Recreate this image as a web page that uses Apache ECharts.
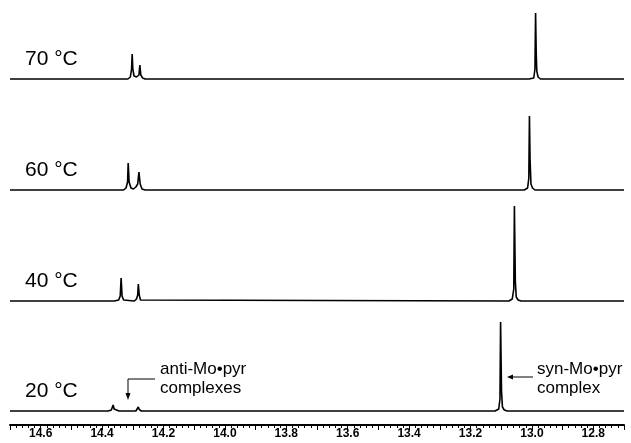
<!DOCTYPE html>
<html>
<head>
<meta charset="utf-8">
<script src="https://cdn.jsdelivr.net/npm/echarts@6/dist/echarts.min.js"></script>
<style>html,body{margin:0;padding:0;background:#fff}#c{width:631px;height:443px}</style>
</head>
<body>
<div id="c"></div>
<script>
// Temperatures (top to bottom)
const temps = ['70 °C', '60 °C', '40 °C', '20 °C'];
// Chemical shift axis (ppm), reversed
const ppmMin = 12.7;
const ppmMax = 14.7;
const ppmStep = 0.1;
// Traces: [ppm, intensity]
const trace70 = [[14.70,0],[14.40,0],[14.316,0],[14.308,2],[14.304,10],[14.302,25],[14.300,10],[14.296,3],[14.288,2],[14.280,4],[14.277,14],[14.274,4],[14.268,1],[14.26,0],[13.01,0],[12.994,1],[12.990,10],[12.988,66],[12.986,27],[12.984,8],[12.980,2],[12.972,0],[12.70,0]];
const trace60 = [[14.70,0],[14.33,0],[14.322,2],[14.317,8],[14.315,27],[14.312,8],[14.306,2],[14.298,1],[14.290,3],[14.284,6],[14.280,18],[14.276,6],[14.270,1],[14.26,0],[13.025,0],[13.014,2],[13.010,12],[13.008,74],[13.006,30],[13.003,6],[12.998,2],[12.99,0],[12.70,0]];
const trace40 = [[14.70,0],[14.36,0],[14.346,1],[14.341,5],[14.338,23],[14.335,5],[14.330,1],[14.295,0],[14.288,2],[14.284,6],[14.282,17],[14.279,6],[14.275,1],[14.27,0],[13.075,0],[13.064,2],[13.059,12],[13.057,95],[13.054,20],[13.051,4],[13.045,1],[13.035,0],[12.70,0]];
const trace20 = [[14.70,0],[14.38,0],[14.370,1],[14.366,3],[14.364,6],[14.361,2],[14.355,0.5],[14.345,0],[14.29,0],[14.285,2],[14.282,4],[14.279,1.5],[14.272,0],[13.12,0],[13.108,2],[13.104,12],[13.102,89],[13.099,20],[13.096,4],[13.09,1],[13.08,0],[12.70,0]];
const traces = [trace70, trace60, trace40, trace20];
const antiLabel = ['anti-Mo•pyr', 'complexes'];
const synLabel = ['syn-Mo•pyr', 'complex'];

const baselines = [79, 190, 301, 411];
const gh = 79;
const chart = echarts.init(document.getElementById('c'), null, {renderer: 'canvas'});
const grids = baselines.map(b => ({left: 10, width: 614, top: b - gh, height: gh}));
const xAxes = baselines.map((b, i) => {
  const last = i === baselines.length - 1;
  return {
    gridIndex: i, type: 'value', inverse: true, min: ppmMin, max: ppmMax, interval: ppmStep,
    show: last, offset: last ? 14 : 0,
    splitLine: {show: false},
    axisLine: {show: true, onZero: false, lineStyle: {color: '#000', width: 2}},
    axisTick: {show: true, inside: false, length: 5, lineStyle: {color: '#000', width: 1}},
    minorTick: {show: true, splitNumber: 5, length: 3, lineStyle: {color: '#000', width: 1}},
    axisLabel: {
      show: true, margin: 3, color: '#000', fontSize: 12, fontWeight: 'bold',
      fontFamily: 'Liberation Sans, Arial, sans-serif',
      formatter: v => (Math.round(v * 10) % 2 === 0) ? v.toFixed(1) : ''
    }
  };
});
const yAxes = baselines.map((b, i) => ({gridIndex: i, type: 'value', min: 0, max: gh, show: false}));
const series = traces.map((t, i) => ({
  type: 'line', xAxisIndex: i, yAxisIndex: i, data: t, showSymbol: false, clip: false,
  lineStyle: {color: '#000', width: 1.6}, animation: false
}));
const font = 'Liberation Sans, Arial, sans-serif';
const graphic = [];
temps.forEach((t, i) => {
  graphic.push({type: 'text', left: 25, top: baselines[i] - 30, style: {text: t, fill: '#000', font: '21px ' + font}});
});
graphic.push({type: 'text', left: 160, top: 360, style: {text: antiLabel.join('\n'), fill: '#000', font: '17px ' + font, lineHeight: 19}});
graphic.push({type: 'text', left: 537, top: 360, style: {text: synLabel.join('\n'), fill: '#000', font: '17px ' + font, lineHeight: 19}});
graphic.push({type: 'polyline', shape: {points: [[155, 379], [128, 379], [128, 394]]}, style: {stroke: '#000', lineWidth: 1, fill: null}});
graphic.push({type: 'polygon', shape: {points: [[125.5, 393], [130.5, 393], [128, 400]]}, style: {fill: '#000'}});
graphic.push({type: 'line', shape: {x1: 533, y1: 377, x2: 512, y2: 377}, style: {stroke: '#000', lineWidth: 1}});
graphic.push({type: 'polygon', shape: {points: [[507, 377], [513, 374.5], [513, 379.5]]}, style: {fill: '#000'}});

chart.setOption({
  animation: false,
  backgroundColor: '#fff',
  grid: grids, xAxis: xAxes, yAxis: yAxes, series: series, graphic: graphic
});
</script>
</body>
</html>
